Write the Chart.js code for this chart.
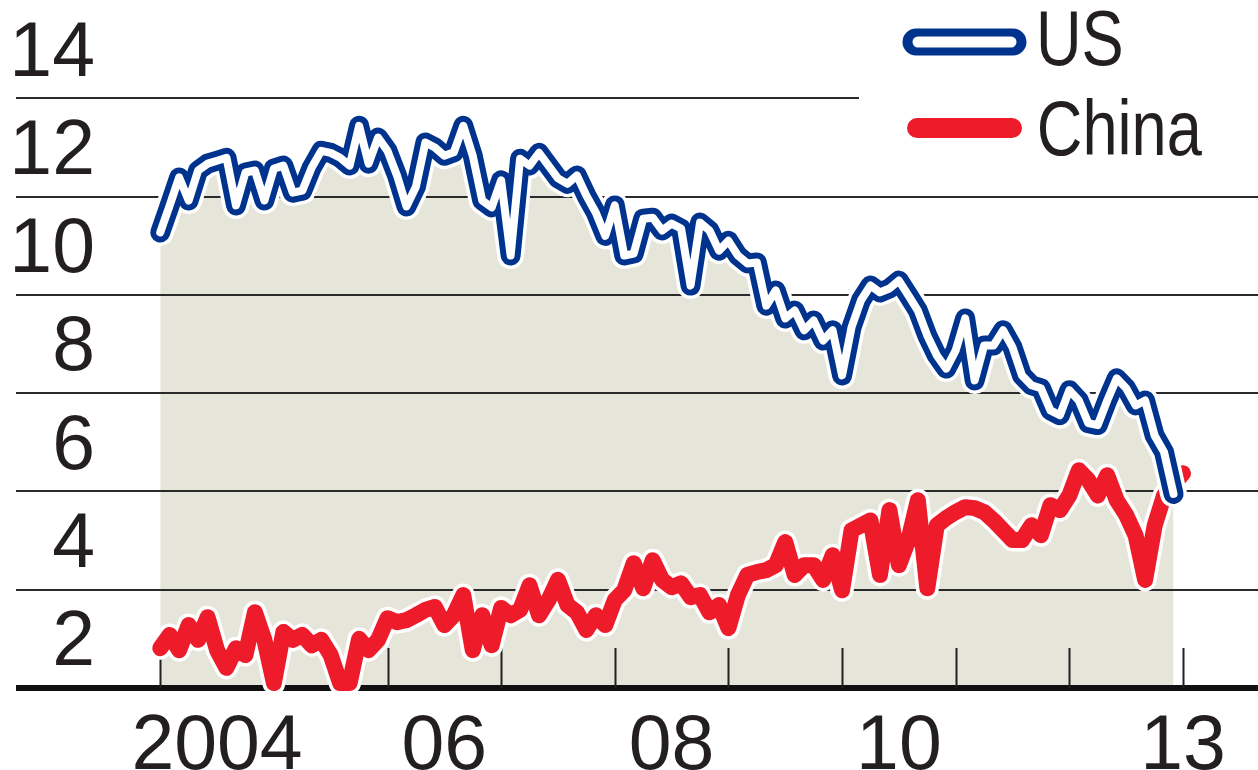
<!DOCTYPE html>
<html>
<head>
<meta charset="utf-8">
<script src="https://cdn.jsdelivr.net/npm/chart.js@4.4.0/dist/chart.umd.min.js"></script>
<style>
  html, body { margin: 0; padding: 0; background: #fff; }
  #wrap { width: 1258px; height: 770px; }
</style>
</head>
<body>
<div id="wrap"><canvas id="shareChart" width="1258" height="770"></canvas></div>
<script>
// monthly values, Jan 2004 onwards
const startYear = 2004
const usShare = [
    11.27, 11.82, 12.39, 11.92, 12.53, 12.67, 12.73, 12.79, 11.82, 12.49, 12.53, 11.92,
    12.57, 12.63, 12.08, 12.12, 12.59, 12.93, 12.89, 12.79, 12.63, 13.44, 12.67, 13.2,
    12.93, 12.43, 11.8, 12.2, 13.1, 13.0, 12.83, 12.9, 13.44, 12.83, 11.92, 11.78,
    12.33, 10.8, 12.77, 12.63, 12.89, 12.63, 12.37, 12.26, 12.43, 12.02, 11.67, 11.2,
    11.82, 10.8, 10.84, 11.55, 11.57, 11.31, 11.45, 11.35, 10.19, 11.47, 11.31, 10.9,
    11.1, 10.8, 10.64, 10.66, 9.78, 10.09, 9.52, 9.68, 9.28, 9.48, 9.07, 9.28,
    8.36, 9.34, 9.89, 10.19, 10.05, 10.13, 10.29, 9.99, 9.68, 9.17, 8.77, 8.5,
    8.87, 9.52, 8.26, 8.97, 8.97, 9.28, 8.93, 8.36, 8.16, 8.1, 7.65, 7.55,
    8.06, 7.85, 7.39, 7.35, 7.85, 8.3, 8.1, 7.75, 7.85, 7.14, 6.8, 5.95
]
const chinaShare = [
    2.81, 3.08, 2.77, 3.28, 2.98, 3.44, 2.77, 2.41, 2.81, 2.67, 3.54, 2.98,
    2.1, 3.14, 2.98, 3.08, 2.87, 2.98, 2.67, 2.1, 2.1, 3.0, 2.77, 2.98,
    3.42, 3.34, 3.38, 3.48, 3.59, 3.65, 3.28, 3.48, 3.89, 2.77, 3.48, 2.87,
    3.63, 3.48, 3.59, 4.09, 3.48, 3.79, 4.2, 3.69, 3.54, 3.18, 3.48, 3.28,
    3.79, 3.99, 4.54, 4.03, 4.6, 4.2, 4.05, 4.13, 3.85, 3.89, 3.54, 3.69,
    3.22, 3.89, 4.3, 4.36, 4.4, 4.5, 4.97, 4.3, 4.5, 4.5, 4.2, 4.7,
    3.99, 5.21, 5.31, 5.41, 4.3, 5.62, 4.5, 5.01, 5.82, 4.03, 5.31, 5.46,
    5.58, 5.68, 5.66, 5.58, 5.41, 5.21, 5.01, 5.01, 5.31, 5.11, 5.72, 5.62,
    5.92, 6.43, 6.23, 5.92, 6.33, 5.82, 5.52, 5.1, 4.2, 5.3, 5.92, 6.13,
    6.37
]
const yTicks = [2, 4, 6, 8, 10, 12, 14]
const xLabelAt = [2004.5, 2006.5, 2008.5, 2010.5, 2013]
const xLabels = ['2004', '06', '08', '10', '13']
const yearMarks = [2004, 2005, 2006, 2007, 2008, 2009, 2010, 2011, 2012, 2013]

const NAVY = '#00338d'
const RED = '#ee1c2a'
const SHADE = '#e6e5da'
const INK = '#231f20'
const numFont = "'Liberation Sans', Arial, sans-serif"

function toPoints(arr) {
    return arr.map((v, i) => ({ x: startYear + i / 12, y: v }))
}

const usPts = toPoints(usShare)
const chinaPts = toPoints(chinaShare)

function lineSet(label, pts, color, width, order, extra) {
    return Object.assign({
        label: label,
        data: pts,
        borderColor: color,
        borderWidth: width,
        pointRadius: 0,
        tension: 0,
        borderJoinStyle: 'round',
        borderCapStyle: 'round',
        fill: false,
        clip: false,
        order: order
    }, extra || {})
}

// year tick marks + trim of the top gridline behind the legend
const markPlugin = {
    id: 'marks',
    beforeDatasetsDraw(chart) {
        const ctx = chart.ctx
        const xs = chart.scales.x
        const bottom = chart.chartArea.bottom
        ctx.save()
        ctx.strokeStyle = INK
        ctx.lineWidth = 2
        yearMarks.forEach(yr => {
            const px = Math.round(xs.getPixelForValue(yr)) + 0.5
            ctx.beginPath()
            ctx.moveTo(px, bottom)
            ctx.lineTo(px, bottom - 40)
            ctx.stroke()
        })
        const y14 = chart.scales.y.getPixelForValue(14)
        ctx.fillStyle = '#fff'
        ctx.fillRect(859, y14 - 4, 400, 8)
        ctx.restore()
    }
}

const legendPlugin = {
    id: 'sideLegend',
    afterDraw(chart) {
        const ctx = chart.ctx
        ctx.save()
        ctx.lineCap = 'round'
        // US: outlined bar
        ctx.strokeStyle = NAVY
        ctx.lineWidth = 27
        ctx.beginPath(); ctx.moveTo(916, 42); ctx.lineTo(1013, 42); ctx.stroke()
        ctx.strokeStyle = '#fff'
        ctx.lineWidth = 11
        ctx.beginPath(); ctx.moveTo(918, 42); ctx.lineTo(1011, 42); ctx.stroke()
        // China: solid bar
        ctx.strokeStyle = RED
        ctx.lineWidth = 20
        ctx.beginPath(); ctx.moveTo(917, 128); ctx.lineTo(1012, 128); ctx.stroke()

        // condensed look: squeeze the regular face horizontally
        ctx.fillStyle = INK
        ctx.font = '77px ' + numFont
        ctx.textBaseline = 'alphabetic'
        ctx.textAlign = 'left'
        ctx.translate(1036, 0)
        ctx.scale(0.82, 1)
        ctx.fillText(chart.data.datasets[0].label, 0, 65)
        ctx.fillText(chart.data.datasets[3].label, 1, 155)
        ctx.restore()
    }
}

const ctx = document.getElementById('shareChart').getContext('2d')
const shareChart = new Chart(ctx, {
    type: 'line',
    data: {
        datasets: [
            lineSet('US', usPts, '#fff', 8, 0),
            lineSet('US', usPts, NAVY, 20, 1),
            lineSet('US', usPts, '#fff', 27, 2, { fill: 'start', backgroundColor: SHADE }),
            lineSet('China', chinaPts, RED, 16, 3),
            lineSet('China', chinaPts, '#fff', 23, 4)
        ]
    },
    options: {
        responsive: false,
        animation: false,
        events: [],
        layout: { padding: 0 },
        plugins: {
            legend: { display: false },
            tooltip: { enabled: false },
            filler: { drawTime: 'beforeDraw' }
        },
        scales: {
            x: {
                type: 'linear',
                min: 2003.47,
                max: 2013.66,
                afterBuildTicks: (scale) => {
                    scale.ticks = xLabelAt.map(v => ({ value: v }))
                },
                afterFit: (scale) => { scale.height = 82 },
                grid: { display: false, drawTicks: false },
                border: { display: false },
                ticks: {
                    autoSkip: false,
                    maxRotation: 0,
                    padding: 14,
                    color: INK,
                    font: { family: numFont, size: 77 },
                    callback: (value) => {
                        const i = xLabelAt.indexOf(value)
                        return i >= 0 ? xLabels[i] : ''
                    }
                }
            },
            y: {
                min: 2,
                max: 16,
                afterBuildTicks: (scale) => {
                    scale.ticks = yTicks.map(v => ({ value: v }))
                },
                afterFit: (scale) => { scale.width = 100 },
                border: { display: false },
                grid: {
                    drawTicks: true,
                    tickLength: 84,
                    color: (c) => c.tick && c.tick.value === 2 ? '#111' : '#2a2a2a',
                    lineWidth: (c) => c.tick && c.tick.value === 2 ? 6 : 2
                },
                ticks: {
                    padding: -79,
                    labelOffset: -44,
                    color: INK,
                    font: { family: numFont, size: 77 }
                }
            }
        }
    },
    plugins: [markPlugin, legendPlugin]
})
</script>
</body>
</html>
